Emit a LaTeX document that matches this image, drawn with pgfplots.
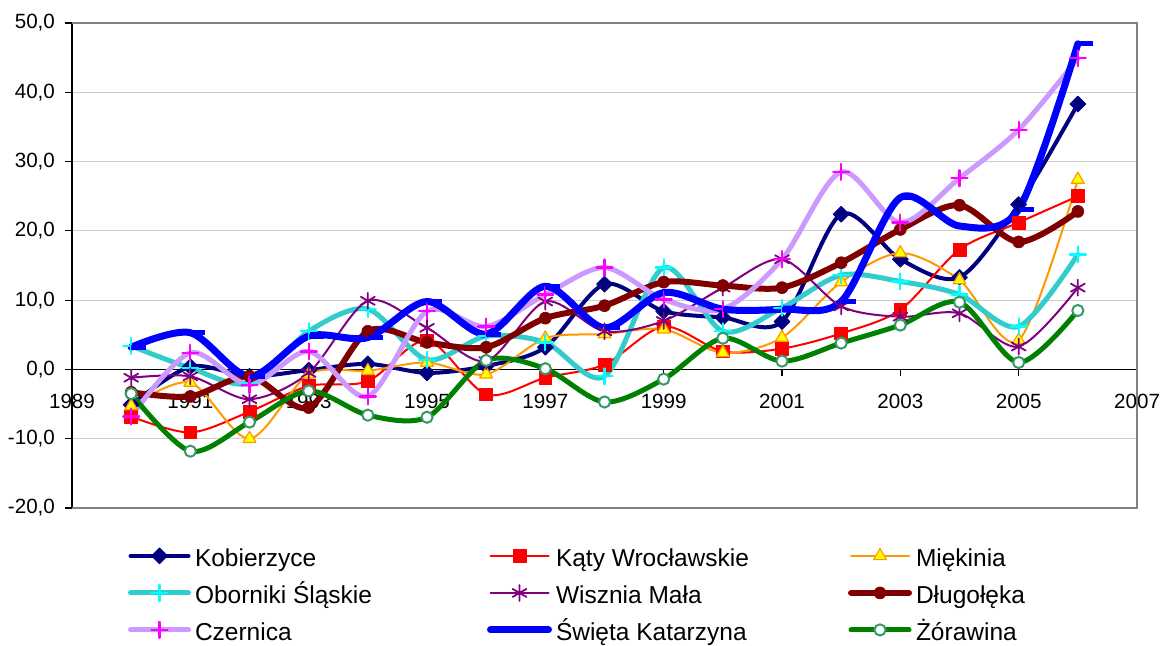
\documentclass[border=0pt]{standalone}
\usepackage{fontspec}
\setmainfont{Liberation Sans}
\usepackage{pgfplots}
\pgfplotsset{compat=1.18}
\usepackage{pgfplotstable}
\definecolor{cKob}{HTML}{000080}
\definecolor{cKaty}{HTML}{FF0000}
\definecolor{cMie}{HTML}{FF9900}
\definecolor{cMieF}{HTML}{FFFF00}
\definecolor{cObo}{HTML}{33CCCC}
\definecolor{cOboM}{HTML}{00FFFF}
\definecolor{cWis}{HTML}{800080}
\definecolor{cDlu}{HTML}{800000}
\definecolor{cCze}{HTML}{CC99FF}
\definecolor{cCzeM}{HTML}{FF00FF}
\definecolor{cSwi}{HTML}{0000FF}
\definecolor{cZor}{HTML}{008000}
\definecolor{cZorM}{HTML}{339966}
\definecolor{gridc}{HTML}{CCCCCC}
\definecolor{framec}{HTML}{808080}
\pgfdeclareplotmark{rdash}{%
  \pgfpathmoveto{\pgfqpoint{0pt}{0pt}}%
  \pgfpathlineto{\pgfqpoint{2\pgfplotmarksize}{0pt}}%
  \pgfusepathqstroke}
\pgfplotstableread{
year kob katy mie obo wis dlu cze swi zor
1990 -5.1 -6.8 -5.3 3.4 -1.2 -3.3 -6.8 3.2 -3.5
1991 0.4 -9.1 -1.9 0.2 -1.0 -3.9 2.4 5.3 -11.8
1992 -1.0 -6.1 -10.0 -2.0 -4.3 -1.0 -2.2 -1.0 -7.6
1993 -0.1 -2.4 -0.7 5.5 -0.5 -5.5 2.6 4.8 -3.1
1994 0.8 -1.7 -0.2 8.7 9.9 5.5 -3.9 4.6 -6.6
1995 -0.5 4.2 1.0 1.4 6.0 3.9 8.4 9.8 -6.9
1996 0.5 -3.6 -0.7 4.8 1.2 3.2 6.2 5.1 1.3
1997 3.2 -1.2 4.5 3.9 9.8 7.4 10.8 12.0 0.1
1998 12.3 0.7 5.1 -1.0 5.5 9.2 14.7 6.0 -4.7
1999 8.4 6.2 5.8 14.7 7.0 12.6 10.1 11.1 -1.4
2000 7.5 2.6 2.4 5.5 11.8 12.1 8.7 8.7 4.5
2001 6.9 3.0 4.6 8.9 15.9 11.8 15.9 8.7 1.2
2002 22.4 5.2 12.6 13.6 9.1 15.4 28.5 9.8 3.8
2003 15.9 8.6 16.8 12.7 7.6 20.2 21.2 24.8 6.4
2004 13.3 17.3 12.9 10.8 8.1 23.7 27.6 20.7 9.7
2005 23.8 21.2 4.2 6.2 3.3 18.4 34.6 23.1 1.0
2006 38.3 25.0 27.4 16.6 11.8 22.8 44.9 47.0 8.5
}\data
\begin{document}
\begin{tikzpicture}
\useasboundingbox (0,0) rectangle (580.5pt,323pt);
\begin{axis}[
  at={(36pt,69pt)}, anchor=south west,
  scale only axis, width=532.5pt, height=242.5pt,
  xmin=1989, xmax=2007, ymin=-20, ymax=50,
  axis x line=middle, axis y line=left,
  axis line style={-, black},
  x axis line style={line width=0.5pt},
  y axis line style={line width=0.8pt},
  xtick={1989,1991,...,2007}, ytick={-20,-10,...,50},
  minor tick num=0,
  tick align=outside, major tick length=3.5pt,
  tick style={black, line width=0.6pt},
  hide obscured x ticks=false, hide obscured y ticks=false,
  ymajorgrids, major grid style={color=gridc, line width=0.5pt},
  tick label style={font=\fontsize{10.3}{12}\selectfont},
  /pgf/number format/assume math mode=true,
  y tick label style={xshift=-1.5pt, /pgf/number format/.cd, fixed, fixed zerofill, precision=1, use comma},
  x tick label style={yshift=-5.5pt, /pgf/number format/1000 sep={}},
  every axis plot/.append style={line join=round, line cap=round},
  legend columns=3,
  legend cell align=left,
  legend style={at={(0.0526,-0.0825)}, anchor=north west, draw=none, fill=none,
    inner sep=0pt, outer sep=0pt, row sep=6.4pt,
    font=\fontsize{12.25}{14}\selectfont,
    nodes={inner sep=0pt, outer sep=0pt, text height=9pt, text depth=2.6pt},
    cells={anchor=base west},
    /tikz/every odd column/.append style={column sep=2pt},
    /tikz/every even column/.append style={column sep=0pt}},
  legend image code/.code={\draw[mark repeat=2,mark phase=2,#1] plot coordinates {(0pt,5.5pt) (14.5pt,5.5pt) (29pt,5.5pt)};},
  after end axis/.code={\draw[framec, line width=1pt] (rel axis cs:0,1) -- (rel axis cs:1,1) -- (rel axis cs:1,0) -- (rel axis cs:0,0);},
]
\addplot[cKob, line width=2pt, smooth, mark=square*, mark size=2.8pt, mark options={rotate=45, fill=cKob, line width=0.4pt}] table[x=year,y=kob]{\data};
\addlegendentry{\makebox[146pt][l]{Kobierzyce}}
\addplot[cKaty, line width=1pt, smooth, mark=square*, mark size=3.2pt, mark options={fill=cKaty, line width=0.4pt}] table[x=year,y=katy]{\data};
\addlegendentry{\makebox[146pt][l]{Kąty Wrocławskie}}
\addplot[cMie, line width=1pt, smooth, mark=triangle*, mark size=3.7pt, mark options={fill=cMieF, draw=cMie, line width=0.6pt}] table[x=year,y=mie]{\data};
\addlegendentry{Miękinia}
\addplot[cObo, line width=2.5pt, smooth, mark=+, mark size=4pt, mark options={draw=cOboM, line width=1.1pt}] table[x=year,y=obo]{\data};
\addlegendentry{\makebox[146pt][l]{Oborniki Śląskie}}
\addplot[cWis, line width=1pt, smooth, mark=asterisk, mark size=4pt, mark options={line width=0.9pt}] table[x=year,y=wis]{\data};
\addlegendentry{\makebox[146pt][l]{Wisznia Mała}}
\addplot[cDlu, line width=3pt, smooth, mark=*, mark size=3pt, mark options={fill=cDlu, line width=0.3pt}] table[x=year,y=dlu]{\data};
\addlegendentry{Długołęka}
\addplot[cCze, line width=2.5pt, smooth, mark=+, mark size=4pt, mark options={draw=cCzeM, line width=1.1pt}] table[x=year,y=cze]{\data};
\addlegendentry{\makebox[146pt][l]{Czernica}}
\addplot[cSwi, line width=3.5pt, smooth, mark=rdash, mark size=3.75pt, mark options={line width=2.5pt, line cap=butt}] table[x=year,y=swi]{\data};
\addlegendentry{\makebox[146pt][l]{Święta Katarzyna}}
\addplot[cZor, line width=2.5pt, smooth, mark=*, mark size=2.8pt, mark options={draw=cZorM, fill=white, line width=1pt}] table[x=year,y=zor]{\data};
\addlegendentry{Żórawina}
\end{axis}
\end{tikzpicture}
\end{document}
